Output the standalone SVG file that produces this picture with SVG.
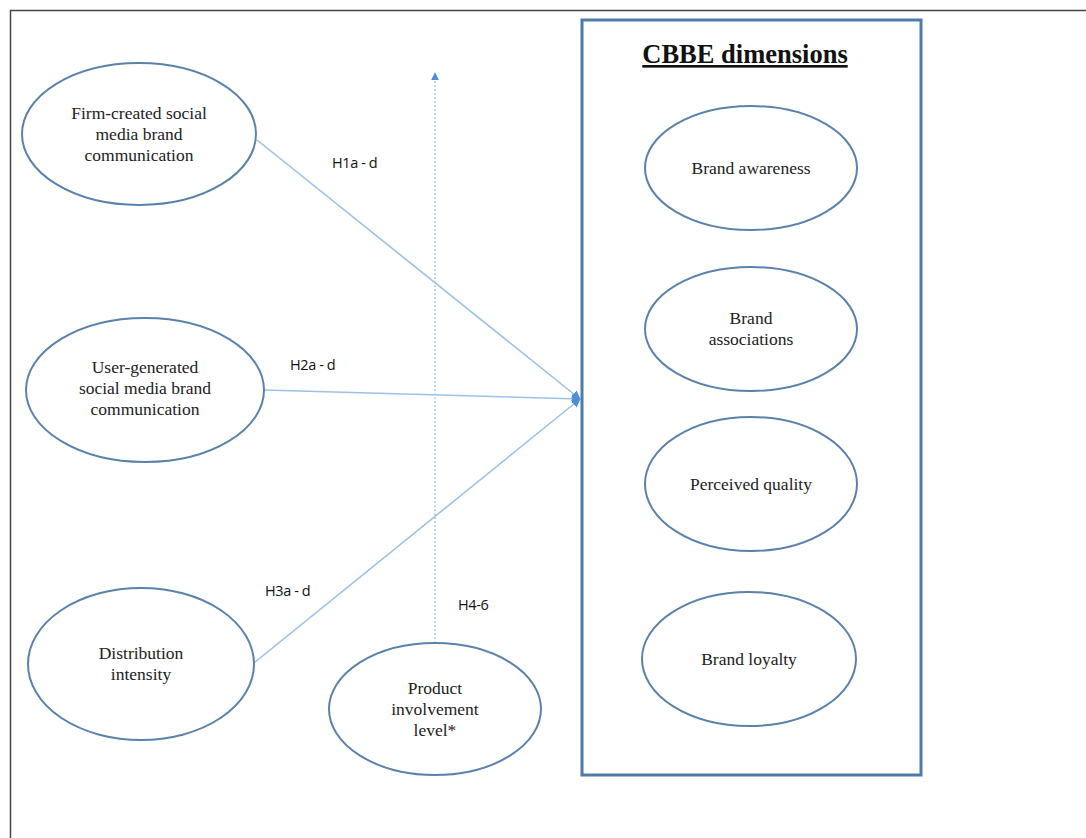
<svg xmlns="http://www.w3.org/2000/svg" width="1086" height="838" viewBox="0 0 1086 838">
<style>
.node ellipse{fill:#fff;stroke:#5b82ab;stroke-width:2}
.lbl{font-family:"Liberation Serif",serif;font-size:17.5px;fill:#222;text-anchor:middle}
.hyp{font-family:"Open Sans","Liberation Sans",sans-serif;font-size:14.5px;fill:#111;letter-spacing:-0.4px}
.conn{stroke:#9cc2e8;stroke-width:1.6;fill:none}
</style>
<defs>
<marker id="ah" viewBox="0 0 10 10" refX="9" refY="5" markerWidth="8" markerHeight="8" orient="auto" markerUnits="userSpaceOnUse"><path d="M0,0 L10,5 L0,10 z" fill="#4a8fd8"/></marker>
<marker id="ah2" viewBox="0 0 10 10" refX="9" refY="5" markerWidth="9" markerHeight="9" orient="auto" markerUnits="userSpaceOnUse"><path d="M0,0 L10,5 L0,10 z" fill="#4a8fd8"/></marker>
</defs>
<rect width="1086" height="838" fill="#fff"/>
<path d="M10.5,838 V10.5 H1086" fill="none" stroke="#444" stroke-width="1.5"/>
<g id="cbbe-box">
<rect x="582" y="20" width="339" height="755" fill="none" stroke="#4f7bab" stroke-width="3"/>
<text x="745" y="63" font-family="Liberation Serif,serif" font-size="26.5" font-weight="bold" text-anchor="middle" fill="#111" text-decoration="underline">CBBE dimensions</text>
</g>
<g id="connectors">
<line class="conn" x1="257" y1="140" x2="580" y2="399" marker-end="url(#ah2)"/>
<line class="conn" x1="264" y1="390" x2="580" y2="399" marker-end="url(#ah2)"/>
<line class="conn" x1="254" y1="663" x2="580" y2="399" marker-end="url(#ah2)"/>
<line x1="435" y1="643" x2="435" y2="73" stroke="#9cc2e8" stroke-width="1.6" stroke-dasharray="1.5,2.5" marker-end="url(#ah)"/>
<text class="hyp" x="332" y="168">H1a - d</text>
<text class="hyp" x="290" y="370">H2a - d</text>
<text class="hyp" x="265" y="596">H3a - d</text>
<text class="hyp" x="458" y="610">H4-6</text>
</g>
<g id="firm" class="node"><ellipse cx="139" cy="134" rx="117" ry="71"/>
<text class="lbl" x="139" y="119">Firm-created social</text><text class="lbl" x="139" y="140">media brand</text><text class="lbl" x="139" y="161">communication</text></g>
<g id="user" class="node"><ellipse cx="145" cy="390" rx="119" ry="72"/>
<text class="lbl" x="145" y="373">User-generated</text><text class="lbl" x="145" y="394">social media brand</text><text class="lbl" x="145" y="415">communication</text></g>
<g id="dist" class="node"><ellipse cx="141" cy="664" rx="113" ry="76"/>
<text class="lbl" x="141" y="659">Distribution</text><text class="lbl" x="141" y="680">intensity</text></g>
<g id="prod" class="node"><ellipse cx="435" cy="709" rx="106" ry="66"/>
<text class="lbl" x="435" y="694">Product</text><text class="lbl" x="435" y="715">involvement</text><text class="lbl" x="435" y="736">level*</text></g>
<g id="aware" class="node"><ellipse cx="751" cy="168" rx="106" ry="62"/>
<text class="lbl" x="751" y="174">Brand awareness</text></g>
<g id="assoc" class="node"><ellipse cx="751" cy="329" rx="106" ry="62"/>
<text class="lbl" x="751" y="324">Brand</text><text class="lbl" x="751" y="345">associations</text></g>
<g id="quality" class="node"><ellipse cx="751" cy="484" rx="106" ry="67"/>
<text class="lbl" x="751" y="490">Perceived quality</text></g>
<g id="loyalty" class="node"><ellipse cx="749" cy="659" rx="107" ry="67"/>
<text class="lbl" x="749" y="665">Brand loyalty</text></g>
</svg>
